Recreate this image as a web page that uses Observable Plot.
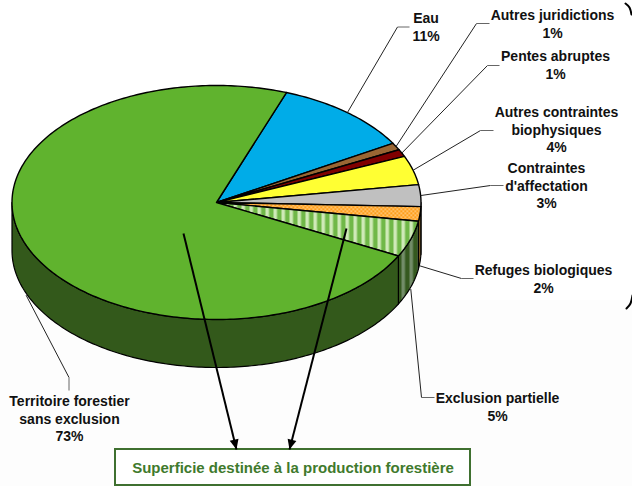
<!DOCTYPE html>
<html lang="fr">
<head>
<meta charset="utf-8">
<script src="https://cdn.jsdelivr.net/npm/d3@7"></script>
<script src="https://cdn.jsdelivr.net/npm/@observablehq/plot@0.6"></script>
<style>html,body{margin:0;padding:0;background:#fff}svg{display:block}</style>
</head>
<body>
<div id="chart"></div>
<script>
// Data, clockwise from the top of the pie
const categories = ["Eau","Autres juridictions","Pentes abruptes","Autres contraintes biophysiques","Contraintes d'affectation","Refuges biologiques","Exclusion partielle","Territoire forestier sans exclusion"];
const values = [11,1,1,4,3,2,5,73];
const labelLines = ["Eau\n11%","Autres juridictions\n1%","Pentes abruptes\n1%","Autres contraintes\nbiophysiques\n4%","Contraintes\nd'affectation\n3%","Refuges biologiques\n2%","Exclusion partielle\n5%","Territoire forestier\nsans exclusion\n73%"];
const boxLabel = "Superficie destinée à la production forestière";

// Styles
const topFills = ["#00ace8","#996633","#800000","#ffff33","#c0c0c0","url(#lattice)","url(#stripes)","#60b32e"];
const sideFills = ["#00ace8","#996633","#800000","#ffff33","#808080","#7d5a22","url(#stripesDark)","#33591b"];

// Layout
const pie = {cx:216, cy:202, rx:204.5, ry:117, depth:48, start:70};
const lineStep = 17.6;
const labelPos = [[425.5,17],[552,14],[555,55],[556,111],[546,167],[543,269],[497,397],[69,400]];
const elbows = [[397,26.5],[476,23],[487,65],[480,130],[490,185],[461,278],[421,397],[68.5,377]];
const stubs = [[409,26.5],[489,23],[499,65],[493,130],[503,185],[473,278],[434,397],[68.5,390]];
const leaderDepth = [0,0,0,0,0,52,50,50];
const arrowFrom = [[183,233],[346,228]];
const arrowTo = [[236,449],[289,449]];
const box = {x1:115,x2:470,y1:449,y2:485};

const pt = (deg, dy = 0) => ({
  x: pie.cx + pie.rx * Math.cos(deg * Math.PI / 180),
  y: pie.cy - pie.ry * Math.sin(deg * Math.PI / 180) + dy
});
const total = d3.sum(values);
let a = pie.start;
const slices = values.map((v, i) => {
  const a0 = a, a1 = a - v / total * 360;
  a = a1;
  return {i, a0, a1, mid: (a0 + a1) / 2};
});
const arcPts = (a0, a1, dy = 0) => {
  const n = Math.max(2, Math.ceil(Math.abs(a0 - a1)));
  return d3.range(n + 1).map(k => pt(a0 + (a1 - a0) * k / n, dy));
};
const centre = {x: pie.cx, y: pie.cy};
const wedge = s => [centre, ...arcPts(s.a0, s.a1), centre];
const wall = s => {
  const lo = Math.max(s.a1, -180), hi = Math.min(s.a0, 0);
  if (hi <= lo) return null;
  const upper = arcPts(hi, lo), lower = arcPts(lo, hi, pie.depth);
  return [...upper, ...lower, upper[0]];
};
const leaderStart = slices.map((s, i) => pt(s.mid, leaderDepth[i]));

const xy = {x: "x", y: "y"};
const edge = {stroke: "#000", strokeWidth: 1.2, strokeLinejoin: "round"};
const textStyle = {fontFamily: "'Liberation Sans', Arial, sans-serif", fontWeight: "bold", fontSize: 14, lineHeight: lineStep / 14, fill: "#111", textAnchor: "middle", lineAnchor: "middle"};
// arrowhead with the tip at the origin, pointing down
const headSymbol = {draw(c){ c.moveTo(0,0); c.lineTo(-4.5,-10); c.lineTo(4.5,-10); c.closePath(); }};
const arrows = arrowFrom.map((f, i) => ({x1:f[0], y1:f[1], x2:arrowTo[i][0], y2:arrowTo[i][1]}));

const plot = Plot.plot({
  width: 632, height: 486,
  margin: 0,
  x: {domain: [0,632], range: [0,632], axis: null},
  y: {domain: [0,486], range: [0,486], axis: null},
  style: {background: "#fff"},
  marks: [
    Plot.rect([{}], {x1: () => 0, x2: () => 632, y1: () => 300, y2: () => 486, fill: "#fdfdfd"}),
    ...slices.map(s => ({s, w: wall(s)})).filter(d => d.w).map(d =>
      Plot.line(d.w, {...xy, fill: sideFills[d.s.i], ...edge})),
    ...slices.map(s => Plot.line(wedge(s), {...xy, fill: topFills[s.i], ...edge, strokeWidth: 1.4})),
    // leaders
    Plot.link(slices, {x1: s => leaderStart[s.i].x, y1: s => leaderStart[s.i].y, x2: s => elbows[s.i][0], y2: s => elbows[s.i][1], stroke: "#222", strokeWidth: 1}),
    Plot.link(slices, {x1: s => elbows[s.i][0], y1: s => elbows[s.i][1], x2: s => stubs[s.i][0], y2: s => stubs[s.i][1], stroke: "#666", strokeWidth: 1}),
    // labels: labelPos is the centre of the first line
    Plot.text(slices, {
      x: s => labelPos[s.i][0],
      y: s => labelPos[s.i][1] + (labelLines[s.i].split("\n").length - 1) * lineStep / 2,
      text: s => labelLines[s.i], ...textStyle}),
    // box and arrows
    Plot.rect([box], {x1: "x1", x2: "x2", y1: "y1", y2: "y2", fill: "#fff", stroke: "#3f7030", strokeWidth: 2}),
    Plot.text([boxLabel], {x: () => (box.x1 + box.x2) / 2, y: () => 466.5, text: d => d, ...textStyle, fontSize: 15, fill: "#3f7a2d"}),
    Plot.link(arrows, {x1: "x1", y1: "y1", x2: "x2", y2: "y2", stroke: "#000", strokeWidth: 2}),
    Plot.dot(arrows, {x: "x2", y: "y2", symbol: headSymbol, r: 4, fill: "#000", stroke: null,
      rotate: d => -Math.atan2(d.x2 - d.x1, d.y2 - d.y1) * 180 / Math.PI}),
    // clipped brackets at the right edge
    Plot.line([[625,3],[629,7],[631,14]], {x: d => d[0], y: d => d[1], stroke: "#000", strokeWidth: 2, curve: "natural"}),
    Plot.line([[626,308],[630,303],[632,295]], {x: d => d[0], y: d => d[1], stroke: "#000", strokeWidth: 2, curve: "natural"})
  ]
});

// Fill patterns
const defs = d3.select(plot).insert("defs", ":first-child");
const stripes = (id, base, light) => {
  const p = defs.append("pattern").attr("id", id).attr("patternUnits", "userSpaceOnUse").attr("width", 8).attr("height", 8);
  p.append("rect").attr("width", 8).attr("height", 8).attr("fill", base);
  p.append("rect").attr("x", 1).attr("width", 3.5).attr("height", 8).attr("fill", light);
};
stripes("stripes", "#70b848", "#cfe9b8");
stripes("stripesDark", "#35591f", "#728c68");
const lat = defs.append("pattern").attr("id", "lattice").attr("patternUnits", "userSpaceOnUse").attr("width", 4).attr("height", 4);
lat.append("rect").attr("width", 4).attr("height", 4).attr("fill", "#ff9e1a");
lat.append("rect").attr("width", 1.5).attr("height", 1.5).attr("fill", "#ffdca8");
lat.append("rect").attr("x", 2).attr("y", 2).attr("width", 1.5).attr("height", 1.5).attr("fill", "#ffdca8");

document.getElementById("chart").append(plot);
</script>
</body>
</html>
